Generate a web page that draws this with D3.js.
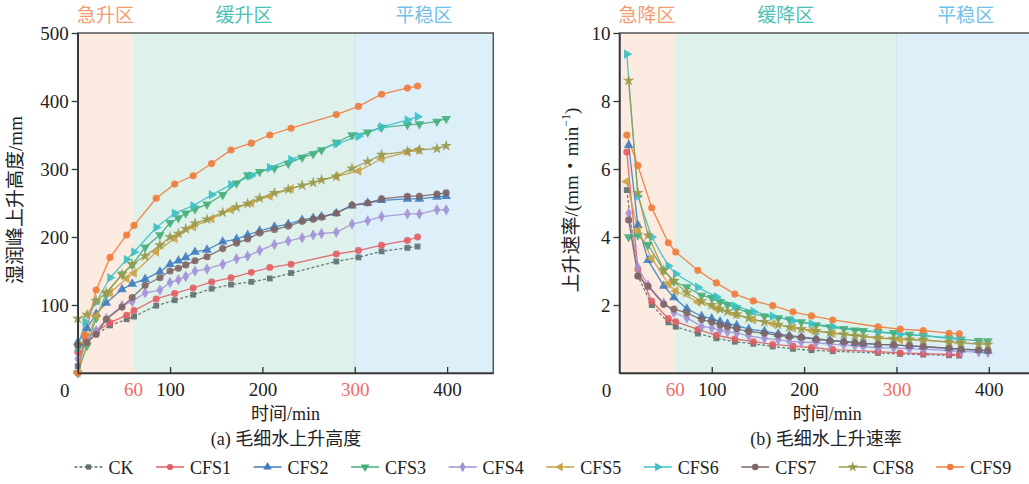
<!DOCTYPE html>
<html><head><meta charset="utf-8">
<script src="https://cdn.jsdelivr.net/npm/d3@7"></script>
<style>
body{margin:0;background:#fff}
svg{display:block}
text{font-family:"Liberation Serif","Times New Roman","Noto Sans CJK SC",serif;fill:#222}
.cjk{font-family:"Liberation Serif","Noto Sans CJK SC",sans-serif}
</style>
</head><body>
<svg id="c" width="1029" height="484"></svg>
<script>
// ---------------- data ----------------
const seriesNames = ["CK","CFS1","CFS2","CFS3","CFS4","CFS5","CFS6","CFS7","CFS8","CFS9"];
const tA = [0, 8, 20, 35, 53, 61, 85, 105, 125, 145, 166, 188, 208, 231, 280, 304, 329, 357, 368];
const tB = [0, 10, 20, 31, 48, 59, 73, 89, 100, 109, 117, 127, 140, 157, 172, 184, 197, 213, 228, 243, 255, 264, 280, 297, 314, 329, 357, 370, 389, 399];

// heights (mm)
const hCK   = [10, 43, 57, 70, 79, 83, 99, 107, 115, 124, 130, 134, 139, 147, 164, 170, 179, 184, 186];
const hCFS1 = [31, 52, 61, 74, 85, 92, 109, 117, 125, 134, 140, 148, 155, 160, 175, 180, 188, 195, 200];
const hCFS5 = [0, 45, 84, 118, 139, 147, 178, 198, 215, 227, 240, 250, 260, 271, 289, 297, 315, 325, 328];
const hCFS6 = [37, 75, 104, 140, 167, 178, 214, 235, 246, 262, 277, 290, 302, 314, 337, 348, 362, 372, 377];
const hCFS9 = [0, 56, 122, 170, 203, 217, 257, 278, 290, 308, 328, 338, 350, 360, 380, 392, 410, 419, 422];
const hCFS2 = [45, 66, 87, 103, 123, 131, 138, 149, 160, 165, 170, 178, 181, 193, 197, 203, 209, 215, 219, 225, 228, 230, 235, 246, 250, 254, 256, 256, 259, 260];
const hCFS3 = [0, 40, 81, 117, 145, 159, 185, 203, 221, 228, 235, 241, 248, 262, 279, 291, 296, 301, 308, 317, 322, 328, 339, 350, 354, 361, 365, 366, 370, 374];
const hCFS4 = [21, 47, 62, 80, 99, 105, 118, 122, 133, 137, 142, 150, 153, 160, 168, 172, 180, 189, 194, 199, 203, 205, 207, 219, 224, 230, 234, 234, 240, 240];
const hCFS7 = [41, 45, 57, 79, 97, 111, 129, 140, 150, 154, 159, 165, 171, 183, 191, 197, 206, 211, 216, 223, 226, 229, 235, 247, 250, 256, 260, 260, 263, 265];
const hCFS8 = [80, 86, 106, 118, 145, 160, 172, 188, 200, 205, 212, 220, 226, 236, 244, 249, 257, 265, 270, 276, 280, 284, 289, 301, 311, 321, 326, 328, 330, 334];

// rates (mm/min), from the second time point on
const rCK   = [5.38, 2.85, 2.00, 1.49, 1.36, 1.16, 1.02, 0.92, 0.86, 0.78, 0.71, 0.67, 0.64, 0.59, 0.56, 0.54, 0.52, 0.51];
const rCFS1 = [6.50, 3.05, 2.11, 1.60, 1.51, 1.28, 1.11, 1.00, 0.92, 0.84, 0.79, 0.75, 0.69, 0.63, 0.59, 0.57, 0.55, 0.54];
const rCFS5 = [5.63, 4.20, 3.37, 2.62, 2.41, 2.09, 1.89, 1.72, 1.57, 1.45, 1.33, 1.25, 1.17, 1.03, 0.98, 0.96, 0.91, 0.89];
const rCFS6 = [9.38, 5.20, 4.00, 3.15, 2.92, 2.52, 2.24, 1.97, 1.81, 1.67, 1.54, 1.45, 1.36, 1.20, 1.14, 1.10, 1.04, 1.02];
const rCFS9 = [7.00, 6.10, 4.86, 3.83, 3.56, 3.02, 2.65, 2.32, 2.12, 1.98, 1.80, 1.68, 1.56, 1.36, 1.29, 1.25, 1.17, 1.15];
const rCFS2 = [6.70, 4.35, 3.32, 2.56, 2.22, 1.89, 1.67, 1.60, 1.51, 1.45, 1.40, 1.29, 1.23, 1.15, 1.10, 1.06, 1.01, 0.96, 0.93, 0.89, 0.87, 0.84, 0.83, 0.80, 0.77, 0.72, 0.69, 0.67, 0.65];
const rCFS3 = [4.00, 4.05, 3.77, 3.02, 2.69, 2.53, 2.28, 2.21, 2.09, 2.01, 1.90, 1.77, 1.67, 1.62, 1.58, 1.50, 1.41, 1.35, 1.30, 1.26, 1.24, 1.21, 1.18, 1.13, 1.10, 1.02, 0.99, 0.95, 0.94];
const rCFS4 = [4.70, 3.10, 2.58, 2.06, 1.78, 1.62, 1.37, 1.33, 1.26, 1.21, 1.18, 1.09, 1.02, 0.98, 0.93, 0.91, 0.89, 0.85, 0.82, 0.80, 0.78, 0.74, 0.74, 0.71, 0.70, 0.66, 0.63, 0.62, 0.60];
const rCFS7 = [4.50, 2.85, 2.55, 2.02, 1.88, 1.77, 1.57, 1.50, 1.41, 1.36, 1.30, 1.22, 1.17, 1.11, 1.07, 1.05, 0.99, 0.95, 0.92, 0.89, 0.87, 0.84, 0.83, 0.80, 0.78, 0.73, 0.70, 0.68, 0.66];
const rCFS8 = [8.60, 5.30, 4.05, 3.02, 2.71, 2.36, 2.11, 2.00, 1.88, 1.81, 1.73, 1.61, 1.50, 1.42, 1.35, 1.30, 1.24, 1.18, 1.14, 1.10, 1.08, 1.03, 1.01, 0.99, 0.98, 0.91, 0.89, 0.85, 0.84];

const xTicks = [60, 100, 200, 300, 400];
const yTicksH = [100, 200, 300, 400, 500];
const yTicksR = [2, 4, 6, 8, 10];
const zones = [[0, 60], [60, 300], [300, 450]];
const zoneNamesA = ["急升区", "缓升区", "平稳区"];
const zoneNamesB = ["急降区", "缓降区", "平稳区"];

// ---------------- styles ----------------
const colors = ["#5f7070","#e35d63","#3f7cc0","#45ae7a","#a391d6","#c9a244","#3cc0c4","#806464","#9a9a4c","#f07b3a"];
const zoneFill = ["#fcebe1", "#dff1eb", "#ddeff9"];
const zoneText = ["#f39c72", "#4cc2b4", "#6fc1ea"];
const sym = [
  {t: d3.symbolSquare, s: 34, r: 0},
  {t: d3.symbolCircle, s: 38, r: 0},
  {t: d3.symbolTriangle, s: 40, r: 0},
  {t: d3.symbolTriangle, s: 40, r: 180},
  {t: d3.symbolDiamond, s: 38, r: 0},
  {t: d3.symbolTriangle, s: 40, r: -90},
  {t: d3.symbolTriangle, s: 40, r: 90},
  {t: d3.symbolCircle, s: 40, r: 0},
  {t: d3.symbolStar, s: 42, r: 0},
  {t: d3.symbolCircle, s: 40, r: 0}
];

const heights = [hCK, hCFS1, hCFS2, hCFS3, hCFS4, hCFS5, hCFS6, hCFS7, hCFS8, hCFS9];
const rates   = [rCK, rCFS1, rCFS2, rCFS3, rCFS4, rCFS5, rCFS6, rCFS7, rCFS8, rCFS9];
const times   = [tA, tA, tB, tB, tB, tA, tA, tB, tB, tA];

const hSeries = seriesNames.map((n, i) => ({i, pts: times[i].map((t, k) => [t, heights[i][k]])}));
const rSeries = seriesNames.map((n, i) => ({i, pts: times[i].slice(1).map((t, k) => [t, rates[i][k]])}));

const svg = d3.select("#c");
const plotTop = 33, plotBottom = 373, plotW = 415.6;

function panel(x0, ymax, yTicks, series, zoneNames) {
  const x = d3.scaleLinear().domain([0, 450]).range([x0, x0 + plotW]);
  const y = d3.scaleLinear().domain([0, ymax]).range([plotBottom, plotTop]);
  const g = svg.append("g");
  g.selectAll("rect.z").data(zones).join("rect")
    .attr("x", d => x(d[0])).attr("y", plotTop)
    .attr("width", d => x(d[1]) - x(d[0])).attr("height", plotBottom - plotTop)
    .attr("fill", (d, i) => zoneFill[i]);
  g.append("line").attr("x1", x(300)).attr("x2", x(300)).attr("y1", plotTop).attr("y2", plotBottom)
    .attr("stroke", "#cfe6ea").attr("stroke-width", 1);
  g.selectAll("text.z").data(zones).join("text")
    .attr("class", "cjk")
    .attr("x", d => x((d[0] + d[1]) / 2)).attr("y", 22)
    .attr("text-anchor", "middle").attr("font-size", 19)
    .style("fill", (d, i) => zoneText[i])
    .text((d, i) => zoneNames[i]);
  g.append("rect").attr("x", x(0)).attr("y", plotTop).attr("width", plotW).attr("height", plotBottom - plotTop)
    .attr("fill", "none").attr("stroke", "#555").attr("stroke-width", 1.5);
  const line = d3.line().x(d => x(d[0])).y(d => y(d[1]));
  series.forEach(s => {
    g.append("path").attr("d", line(s.pts)).attr("fill", "none")
      .attr("stroke", colors[s.i]).attr("stroke-width", 1.3).attr("stroke-opacity", 0.9)
      .attr("stroke-dasharray", s.i === 0 ? "3,2" : null);
  });
  series.forEach(s => {
    const sp = sym[s.i];
    g.selectAll(null).data(s.pts).join("path")
      .attr("d", d3.symbol().type(sp.t).size(sp.s)())
      .attr("transform", d => `translate(${x(d[0])},${y(d[1])}) rotate(${sp.r})`)
      .attr("fill", colors[s.i]).attr("fill-opacity", 0.9);
  });
  const ax = g.append("g").attr("transform", `translate(0,${plotBottom})`)
    .call(d3.axisBottom(x).tickValues(xTicks).tickSizeInner(-6).tickSizeOuter(0).tickPadding(10).tickFormat(d3.format("d")));
  ax.select(".domain").attr("stroke", "#333").attr("stroke-width", 1.6);
  ax.selectAll(".tick line").attr("stroke", "#333").attr("stroke-width", 1.3)
    .attr("opacity", d => d === 60 ? 0 : 1);
  ax.selectAll(".tick text").attr("font-size", 19).attr("font-family", "Liberation Serif")
    .style("fill", d => (d === 60 || d === 300) ? "#f06b6b" : "#222");
  const ay = g.append("g").attr("transform", `translate(${x(0)},0)`)
    .call(d3.axisLeft(y).tickValues(yTicks).tickSizeInner(6).tickSizeOuter(0).tickPadding(3).tickFormat(d3.format("d")));
  ay.select(".domain").attr("stroke", "#333").attr("stroke-width", 1.6);
  ay.selectAll(".tick line").attr("stroke", "#333").attr("stroke-width", 1.3);
  ay.selectAll(".tick text").attr("font-size", 19).attr("font-family", "Liberation Serif").style("fill", "#222");
  g.append("text").attr("x", x(0) - 13).attr("y", 397).attr("text-anchor", "middle")
    .attr("font-size", 19).text("0");
  g.append("text").attr("class", "cjk").attr("x", x0 + plotW / 2).attr("y", 420)
    .attr("text-anchor", "middle").attr("font-size", 18).text("时间/min");
  return {x, y, g};
}

panel(77.7, 500, yTicksH, hSeries, zoneNamesA);
panel(619.4, 10, yTicksR, rSeries, zoneNamesB);

svg.append("text").attr("class", "cjk").attr("transform", "translate(22,200) rotate(-90)")
  .attr("text-anchor", "middle").attr("font-size", 19).text("湿润峰上升高度/mm");
const yt = svg.append("text").attr("class", "cjk").attr("transform", "translate(578,200) rotate(-90)")
  .attr("text-anchor", "middle").attr("font-size", 19);
yt.append("tspan").text("上升速率/(mm・min");
yt.append("tspan").attr("font-size", 12).attr("dy", -8).text("−1");
yt.append("tspan").attr("dy", 8).text(")");

svg.append("text").attr("class", "cjk").attr("x", 286).attr("y", 445).attr("text-anchor", "middle")
  .attr("font-size", 18).text("(a) 毛细水上升高度");
svg.append("text").attr("class", "cjk").attr("x", 826).attr("y", 445).attr("text-anchor", "middle")
  .attr("font-size", 18).text("(b) 毛细水上升速率");

let lx = 74.5;
const ly = 467;
seriesNames.forEach((n, i) => {
  const g = svg.append("g");
  g.append("line").attr("x1", lx).attr("x2", lx + 28).attr("y1", ly).attr("y2", ly)
    .attr("stroke", colors[i]).attr("stroke-width", 1.5).attr("stroke-dasharray", i === 0 ? "3,2" : null);
  g.append("path").attr("d", d3.symbol().type(sym[i].t).size(sym[i].s * 0.8)())
    .attr("transform", `translate(${lx + 14},${ly}) rotate(${sym[i].r})`).attr("fill", colors[i]);
  const t = g.append("text").attr("x", lx + 34).attr("y", ly + 6.5).attr("font-size", 18).text(n);
  lx += 34 + t.node().getComputedTextLength() + 22.5;
});
</script>
</body></html>
